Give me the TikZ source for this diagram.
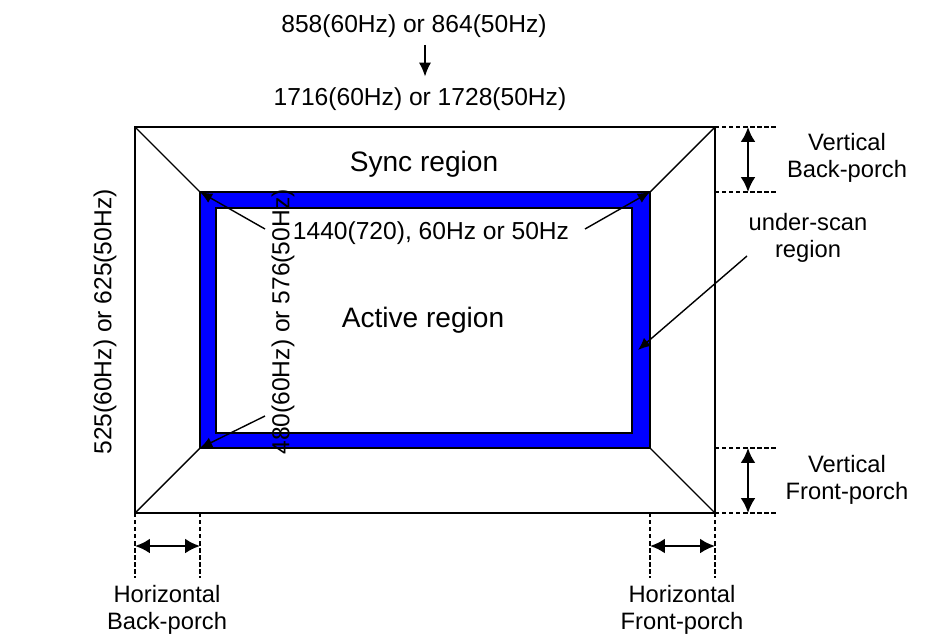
\documentclass[tikz,border=0pt]{standalone}
\usepackage{fontspec}
\setmainfont{Liberation Sans}
\usetikzlibrary{arrows.meta,positioning}

\begin{document}
\begin{tikzpicture}[x=0.02cm, y=-0.02cm,
  frameline/.style={line width=1.3pt},
  diag/.style={line width=0.8pt},
  guide/.style={line width=1pt, dash pattern=on 2.5pt off 1.5pt},
  dimarr/.style={{Latex[length=8.5pt,width=8.5pt]}-{Latex[length=8.5pt,width=8.5pt]}, line width=1.4pt},
  ptr/.style={-{Latex[length=7pt,width=6pt]}, line width=0.8pt},
  toparr/.style={-{Latex[length=8pt,width=7pt]}, line width=1.1pt},
  lbl/.style={font=\fontsize{13.5}{15.5}\selectfont, align=center, inner sep=1pt},
  num/.style={font=\fontsize{14}{16}\selectfont, inner sep=1pt},
  rgn/.style={font=\fontsize{16}{18}\selectfont, inner sep=1pt}
]
\useasboundingbox (0,0) rectangle (946,643);

% screen corners
\coordinate (otl) at (135,127);
\coordinate (otr) at (715,127);
\coordinate (obl) at (135,513);
\coordinate (obr) at (715,513);
% under-scan frame corners
\coordinate (btl) at (200,192);
\coordinate (btr) at (650,192);
\coordinate (bbl) at (200,448);
\coordinate (bbr) at (650,448);

\draw[frameline] (otl) rectangle (obr);
\draw[diag] (otl) -- (btl) (otr) -- (btr) (obl) -- (bbl) (obr) -- (bbr);
\filldraw[fill=blue, line width=1pt, even odd rule]
  (btl) rectangle (bbr) (216,208) rectangle (632,433);

% porch guides
\draw[guide] (otr) -- (778,127);
\draw[guide] (715,192) -- (778,192);
\draw[guide] (715,448) -- (778,448);
\draw[guide] (obr) -- (778,513);
\draw[guide] (obl) -- (135,578);
\draw[guide] (200,513) -- (200,578);
\draw[guide] (650,513) -- (650,578);
\draw[guide] (obr) -- (715,578);

\coordinate (vb1) at (748,127);
\coordinate (vb2) at (748,192);
\coordinate (vf1) at (748,448);
\coordinate (vf2) at (748,513);
\coordinate (hb1) at (135,546);
\coordinate (hb2) at (200,546);
\coordinate (hf1) at (650,546);
\coordinate (hf2) at (715,546);
\draw[dimarr] (vb1) -- (vb2);
\draw[dimarr] (vf1) -- (vf2);
\draw[dimarr] (hb1) -- (hb2);
\draw[dimarr] (hf1) -- (hf2);

% labels
\node[num] (htot1) at (414,26) {858(60Hz) or 864(50Hz)};
\node[num] (htot2) at (420,99) {1716(60Hz) or 1728(50Hz)};
\node[rgn] (sync) at (424,164) {Sync region};
\node[rgn] (act)  at (423,320) {Active region};
\node[num] (hact) at (431,233) {1440(720), 60Hz or 50Hz};
\node[num, rotate=90] (vtot) at (105,322) {525(60Hz) or 625(50Hz)};
\node[num, rotate=90] (vact) at (283,322) {480(60Hz) or 576(50Hz)};
\node[lbl] (vbp) at (847,158) {Vertical\\Back-porch};
\node[lbl] (vfp) at (847,480) {Vertical\\Front-porch};
\node[lbl] (usr) at (808,238) {under-scan\\region};
\node[lbl] (hbp) at (167,610) {Horizontal\\Back-porch};
\node[lbl] (hfp) at (682,610) {Horizontal\\Front-porch};

\draw[toparr, shorten <=3pt, shorten >=5pt] (htot1.south -| 425,0) -- (htot2.north -| 425,0);

\coordinate (p1) at (265,229);
\coordinate (p2) at (585,229);
\coordinate (p3) at (265,416);
\coordinate (p4) at (747,256);
\coordinate (q4) at (638,350);
\draw[ptr] (p1) -- (btl);
\draw[ptr] (p2) -- (btr);
\draw[ptr] (p3) -- (bbl);
\draw[ptr] (p4) -- (q4);

\end{tikzpicture}
\end{document}
